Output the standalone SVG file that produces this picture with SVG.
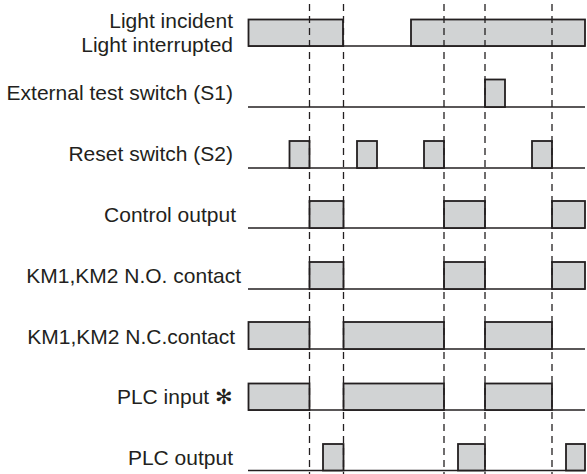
<svg xmlns="http://www.w3.org/2000/svg" width="587" height="474" viewBox="0 0 587 474">
<style>
.lbl{font-family:"Liberation Sans",Arial,Helvetica,sans-serif;font-size:21px;fill:#231f20;text-anchor:end}
.hi{fill:#d1d3d4;stroke:#231f20;stroke-width:1.8}
.base{stroke:#231f20;stroke-width:1.6;fill:none}
.dash{stroke:#231f20;stroke-width:1.3;stroke-dasharray:7 5;fill:none}
</style>
<rect width="587" height="474" fill="#ffffff"/>
<g id="light">
<text class="lbl" x="233" y="28">Light incident</text>
<text class="lbl" x="233" y="52">Light interrupted</text>
<line class="base" x1="248" y1="46" x2="585" y2="46"/>
<rect class="hi" x="248.5" y="19.5" width="94.5" height="26.5"/>
<rect class="hi" x="411" y="19.5" width="174" height="26.5"/>
</g>
<g id="s1">
<text class="lbl" x="233" y="100">External test switch (S1)</text>
<line class="base" x1="248" y1="107" x2="585" y2="107"/>
<rect class="hi" x="485" y="79.5" width="20" height="27.5"/>
</g>
<g id="s2">
<text class="lbl" x="233" y="161">Reset switch (S2)</text>
<line class="base" x1="248" y1="168" x2="585" y2="168"/>
<rect class="hi" x="289.5" y="141" width="20" height="27"/>
<rect class="hi" x="357" y="141" width="20" height="27"/>
<rect class="hi" x="424" y="141" width="20" height="27"/>
<rect class="hi" x="532" y="141" width="20" height="27"/>
</g>
<g id="control">
<text class="lbl" x="236" y="222">Control output</text>
<line class="base" x1="248" y1="228" x2="585" y2="228"/>
<rect class="hi" x="309.5" y="201" width="34" height="27"/>
<rect class="hi" x="444" y="201" width="41" height="27"/>
<rect class="hi" x="552" y="201" width="33" height="27"/>
</g>
<g id="no">
<text class="lbl" x="241" y="283">KM1,KM2 N.O. contact</text>
<line class="base" x1="248" y1="289" x2="585" y2="289"/>
<rect class="hi" x="309.5" y="262" width="34" height="27"/>
<rect class="hi" x="444" y="262" width="41" height="27"/>
<rect class="hi" x="552" y="262" width="33" height="27"/>
</g>
<g id="nc">
<text class="lbl" x="235" y="344">KM1,KM2 N.C.contact</text>
<line class="base" x1="248" y1="349" x2="585" y2="349"/>
<rect class="hi" x="248.5" y="322" width="61" height="27"/>
<rect class="hi" x="343.5" y="322" width="100.5" height="27"/>
<rect class="hi" x="485" y="322" width="67" height="27"/>
</g>
<g id="plcin">
<text class="lbl" x="233" y="404">PLC input ✻</text>
<line class="base" x1="248" y1="410" x2="585" y2="410"/>
<rect class="hi" x="248.5" y="383.5" width="61" height="26.5"/>
<rect class="hi" x="343.5" y="383.5" width="100.5" height="26.5"/>
<rect class="hi" x="485" y="383.5" width="67" height="26.5"/>
</g>
<g id="plcout">
<text class="lbl" x="233" y="465">PLC output</text>
<line class="base" x1="248" y1="470.5" x2="585" y2="470.5"/>
<rect class="hi" x="323" y="444" width="20.5" height="26.5"/>
<rect class="hi" x="458" y="444" width="27" height="26.5"/>
<rect class="hi" x="566" y="444" width="19" height="26.5"/>
</g>
<g id="connectors">
<line class="dash" x1="309.5" y1="4" x2="309.5" y2="474"/>
<line class="dash" x1="343.5" y1="4" x2="343.5" y2="474"/>
<line class="dash" x1="444" y1="4" x2="444" y2="474"/>
<line class="dash" x1="485" y1="4" x2="485" y2="474"/>
<line class="dash" x1="552" y1="4" x2="552" y2="474"/>
</g>
</svg>
